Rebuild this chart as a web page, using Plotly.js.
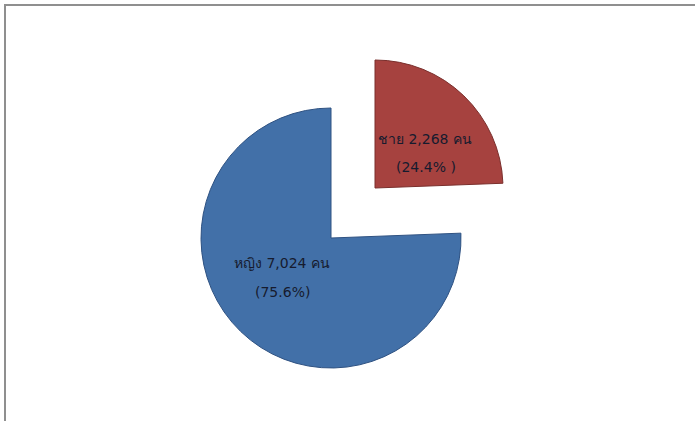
<!DOCTYPE html>
<html>
<head>
<meta charset="utf-8">
<script src="https://cdn.plot.ly/plotly-3.0.1.min.js"></script>
<style>
  html, body { margin:0; padding:0; background:#fff; overflow:hidden; }
  #wrap { position:relative; width:695px; height:421px; overflow:hidden; background:#fff; }
  #frame { position:absolute; left:4px; top:4px; width:700px; height:430px;
           border-top:2px solid #8f8f8f; border-left:2px solid #8f8f8f; box-sizing:border-box; }
  #chart { position:absolute; left:0; top:0; width:695px; height:421px; }
</style>
</head>
<body>
<div id="wrap">
  <div id="frame"></div>
  <div id="chart"></div>
</div>
<script>
// ---- data ----
const labels = ['ชาย', 'หญิง'];
const values = [2268, 7024];
const unit = 'คน';
const pctText = ['(24.4% )', '(75.6%)'];
const colors = ['#A6423F', '#4270A8'];
const lineColors = ['#7a2f2c', '#2f5282'];

// ---- layout helpers (page pixels -> paper fraction) ----
const W = 695, H = 421;
const px = x => x / W;
const py = y => (H - y) / H;

function fmt(n){ return n.toLocaleString('en-US'); }

// pie centre and radius for each drawn slice (page pixels): [cx, cy, r]
const geo = [
  [375, 188, 128],  // red slice (pulled out)
  [331, 238, 130]   // blue slice
];

const traces = [];
for (let k = 0; k < labels.length; k++) {
  const [cx, cy, r] = geo[k];
  const cols = labels.map((_, i) => i === k ? colors[i] : 'rgba(0,0,0,0)');
  const lcols = labels.map((_, i) => i === k ? lineColors[i] : 'rgba(0,0,0,0)');
  traces.push({
    type: 'pie',
    labels: labels,
    values: values,
    sort: false,
    direction: 'clockwise',
    rotation: 0,
    textinfo: 'none',
    hoverinfo: 'skip',
    showlegend: false,
    marker: { colors: cols, line: { color: lcols, width: 1 } },
    domain: { x: [px(cx - r), px(cx + r)], y: [py(cy + r), py(cy - r)] }
  });
}

// label positions (page pixels): [line1 x, line1 y, line2 x, line2 y]
const labPos = [
  [425, 139, 426, 167],
  [282, 263, 282, 292]
];
const font = { family: 'Tahoma, "DejaVu Sans", "Noto Sans", sans-serif', size: 14, color: '#161b2e' };
const annotations = [];
for (let i = 0; i < labels.length; i++) {
  const p = labPos[i];
  annotations.push({ xref:'paper', yref:'paper', x: px(p[0]), y: py(p[1]), showarrow:false,
    text: labels[i] + ' ' + fmt(values[i]) + ' ' + unit, font: font, xanchor:'center', yanchor:'middle' });
  annotations.push({ xref:'paper', yref:'paper', x: px(p[2]), y: py(p[3]), showarrow:false,
    text: pctText[i], font: font, xanchor:'center', yanchor:'middle' });
}

Plotly.newPlot('chart', traces, {
  width: W, height: H,
  margin: { l:0, r:0, t:0, b:0 },
  paper_bgcolor: 'rgba(0,0,0,0)',
  plot_bgcolor: 'rgba(0,0,0,0)',
  showlegend: false,
  annotations: annotations
}, { displayModeBar: false, staticPlot: true });
</script>
</body>
</html>
